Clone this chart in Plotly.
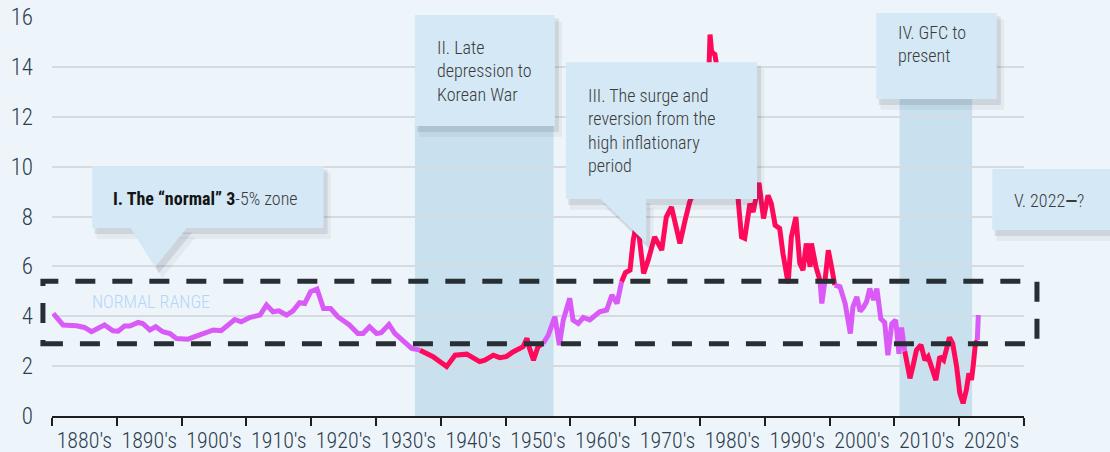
import plotly.graph_objects as go

# ---------------- data ----------------
years = [
    1880.2, 1881.0, 1881.7, 1883.8, 1885.0, 1886.1, 1888.1, 1889.4, 1890.2, 1891.2,
    1892.0, 1893.3, 1894.0, 1895.1, 1896.0, 1897.1, 1898.2, 1899.2, 1901.0, 1902.8,
    1904.9, 1906.1, 1908.2, 1909.2, 1910.5, 1912.1, 1913.1, 1914.1, 1915.0, 1916.2,
    1917.2, 1918.2, 1919.0, 1919.9, 1920.9, 1921.9, 1923.0, 1924.1, 1925.9, 1927.2,
    1928.0, 1929.0, 1930.1, 1930.8, 1932.0, 1932.9, 1934.2, 1935.5, 1936.8, 1938.8,
    1940.9, 1942.2, 1944.0, 1946.0, 1946.8, 1948.1, 1949.1, 1950.1, 1951.2, 1952.7,
    1953.3, 1953.6, 1954.3, 1955.0, 1955.8, 1956.6, 1957.6, 1958.3, 1958.9, 1959.9,
    1960.4, 1961.2, 1962.0, 1963.0, 1964.5, 1965.6, 1966.4, 1967.2, 1967.9, 1968.5,
    1969.2, 1969.7, 1970.3, 1971.0, 1971.3, 1972.0, 1973.0, 1974.1, 1974.8, 1975.6,
    1976.1, 1976.9, 1977.7, 1978.4, 1979.2, 1979.8, 1980.2, 1980.5, 1980.9, 1981.3,
    1981.55, 1981.8, 1982.3, 1982.6, 1982.9, 1983.4, 1983.8, 1984.5, 1985.0, 1985.5,
    1985.9, 1986.4, 1986.9, 1987.7, 1988.2, 1989.1, 1989.8, 1990.5, 1991.0, 1991.6,
    1992.3, 1992.8, 1993.6, 1994.1, 1994.8, 1995.4, 1995.9, 1996.4, 1997.0, 1997.2,
    1997.9, 1998.5, 1998.8, 1999.3, 1999.8, 2000.3, 2000.8, 2001.6, 2002.4, 2003.2,
    2003.6, 2004.2, 2004.7, 2005.2, 2005.7, 2006.2, 2006.8, 2007.3, 2007.9, 2008.5,
    2009.0, 2009.6, 2010.2, 2010.7, 2011.1, 2011.6, 2011.9, 2012.4, 2012.9, 2013.4,
    2014.1, 2014.7, 2015.2, 2015.7, 2016.4, 2017.0, 2017.6, 2018.5, 2019.0, 2019.6,
    2020.1, 2020.6, 2021.1, 2021.5, 2021.9, 2022.2, 2022.5, 2022.8, 2022.95,
]
yields = [
    4.11, 3.85, 3.65, 3.62, 3.55, 3.38, 3.65, 3.42, 3.40, 3.61,
    3.61, 3.75, 3.71, 3.45, 3.58, 3.38, 3.31, 3.11, 3.08, 3.25,
    3.45, 3.42, 3.87, 3.78, 3.95, 4.05, 4.45, 4.18, 4.22, 4.05,
    4.22, 4.54, 4.51, 4.98, 5.09, 4.31, 4.31, 3.98, 3.65, 3.31,
    3.31, 3.58, 3.31, 3.34, 3.67, 3.31, 3.04, 2.71, 2.64, 2.38,
    1.98, 2.44, 2.48, 2.18, 2.24, 2.44, 2.34, 2.38, 2.58, 2.78,
    3.11, 2.78, 2.24, 2.78, 2.91, 3.25, 3.98, 2.84, 3.85, 4.72,
    3.85, 3.71, 3.95, 3.85, 4.18, 4.25, 4.85, 4.51, 5.38, 5.75,
    5.85, 7.05, 7.85, 6.52, 5.72, 6.25, 7.18, 6.65, 7.98, 8.38,
    7.85, 6.92, 7.85, 8.58, 9.10, 10.40, 12.60, 9.80, 12.40, 13.20,
    15.30, 14.60, 14.50, 14.00, 10.50, 10.40, 11.80, 13.50, 11.50, 10.30,
    8.65, 7.18, 7.12, 8.52, 8.18, 9.35, 7.92, 8.85, 8.52, 7.65,
    7.52, 6.52, 5.32, 7.18, 7.98, 6.12, 5.85, 6.92, 5.98, 6.92,
    5.98, 5.45, 4.51, 5.45, 6.65, 5.98, 5.25, 5.18, 4.51, 3.31,
    4.38, 4.78, 4.20, 4.35, 4.58, 5.11, 4.65, 5.11, 3.90, 3.75,
    2.44, 3.70, 3.85, 2.50, 3.55, 2.60, 2.10, 1.51, 2.04, 2.64,
    2.85, 2.24, 2.38, 1.98, 1.44, 2.38, 2.24, 3.15, 2.90, 1.98,
    0.90, 0.51, 1.04, 1.71, 1.45, 2.11, 2.91, 3.04, 4.05,
]

# colour regimes (violet = within normal zone, red = outside)
regime_breaks = [1880.2, 1936.8, 1955.8, 1967.9, 1998.5, 1999.3, 2000.8, 2011.6, 2022.8, 2022.95]
regime_kinds = ["normal", "out", "normal", "out", "normal", "out", "normal", "out", "normal"]

decade_ticks = list(range(1880, 2031, 10))
decade_labels = [f"{d}'s" for d in range(1880, 2021, 10)]
decade_mids = [d + 5 for d in range(1880, 2021, 10)]
y_ticks = list(range(0, 17, 2))

normal_low, normal_high = 2.9, 5.4
shade_periods = [(1936.0, 1957.4), (2010.8, 2022.0)]

# ---------------- styling ----------------
FONT = "Liberation Sans Narrow, Roboto Condensed, Roboto, sans-serif"
BG = "#EEF5FA"
SHADE = "#C9E1EE"
BOX = "#D5E8F6"
VIOLET = "#DA5AF7"
RED = "#FF0A5A"
DASH = "#272E34"
TXT = "#3B3B3B"
AXTXT = "#2D3D50"
XMIN, XMAX = 1880, 2030
YMIN, YMAX = 0, 16
PLOT_W, PLOT_H = 972, 399


def xp(year):
    return (year - XMIN) / (XMAX - XMIN)


def yp(val):
    return (val - YMIN) / (YMAX - YMIN)


fig = go.Figure()

colors = {"normal": VIOLET, "out": RED}
for k, kind in enumerate(regime_kinds):
    a, b = regime_breaks[k], regime_breaks[k + 1]
    xs = [x for x in years if a - 1e-9 <= x <= b + 1e-9]
    ys = [y for x, y in zip(years, yields) if a - 1e-9 <= x <= b + 1e-9]
    fig.add_trace(go.Scatter(
        x=xs, y=ys, mode="lines",
        line=dict(color=colors[kind], width=5),
        hoverinfo="skip", showlegend=False,
    ))

shapes = []
# shaded periods
for a, b in shade_periods:
    shapes.append(dict(type="rect", xref="x", yref="paper", x0=a, x1=b, y0=0, y1=1,
                       fillcolor=SHADE, line=dict(width=0), layer="between"))

# dashed normal-range rectangle
shapes.append(dict(type="rect", xref="paper", yref="paper",
                   x0=xp(1878.6), x1=xp(2032.0), y0=yp(normal_low), y1=yp(normal_high),
                   line=dict(color=DASH, width=5, dash="20px,17px"),
                   fillcolor="rgba(0,0,0,0)", layer="above"))

# callout boxes: (x0, x1, y0, y1) in years / values
boxes = [
    (1886.2, 1921.9, 7.54, 10.02),
    (1936.0, 1957.6, 11.63, 16.08),
    (1959.3, 1988.8, 8.70, 14.19),
    (2007.2, 2025.8, 12.71, 16.16),
    (2025.1, 2045.0, 7.46, 9.90),
]
pointers = [
    [(1892.0, 7.60), (1901.0, 7.60), (1895.9, 5.97)],
    [(1964.4, 8.76), (1971.7, 8.76), (1971.7, 6.94)],
]
sdx, sdy = 4 / PLOT_W, 6 / PLOT_H


def tri_path(pts, dx=0.0, dy=0.0):
    return "M " + " L ".join(f"{xp(x) + dx},{yp(y) - dy}" for x, y in pts) + " Z"


for (alpha, mult) in [(0.06, 1.8), (0.11, 1.0)]:
    for (x0, x1, y0, y1) in boxes:
        shapes.append(dict(type="rect", xref="paper", yref="paper",
                           x0=xp(x0) + sdx * mult * 0.6, x1=xp(x1) + sdx * mult,
                           y0=yp(y0) - sdy * mult, y1=yp(y1) - sdy * mult * 0.6,
                           fillcolor=f"rgba(40,50,60,{alpha})", line=dict(width=0), layer="above"))
    for pts in pointers:
        shapes.append(dict(type="path", xref="paper", yref="paper",
                           path=tri_path(pts, sdx * mult, sdy * mult),
                           fillcolor=f"rgba(40,50,60,{alpha})", line=dict(width=0), layer="above"))

for (x0, x1, y0, y1) in boxes:
    shapes.append(dict(type="rect", xref="paper", yref="paper",
                       x0=xp(x0), x1=xp(x1), y0=yp(y0), y1=yp(y1),
                       fillcolor=BOX, line=dict(width=0), layer="above"))
for pts in pointers:
    shapes.append(dict(type="path", xref="paper", yref="paper", path=tri_path(pts),
                       fillcolor=BOX, line=dict(width=0), layer="above"))

annotations = [
    dict(text='<span style="color:#141414;font-weight:bold">I. The “normal” 3</span>-5% zone',
         x=xp(1889.1), y=yp(8.74)),
    dict(text="II. Late<br>depression to<br>Korean War", x=xp(1939.1), y=yp(13.83)),
    dict(text="III. The surge and<br>reversion from the<br>high inflationary<br>period",
         x=xp(1962.4), y=yp(11.45)),
    dict(text="IV. GFC to<br>present", x=xp(2010.3), y=yp(14.91)),
    dict(text="V. 2022<b>—</b>?", x=xp(2028.1), y=yp(8.66)),
]
for a in annotations:
    a.update(xref="paper", yref="paper", xanchor="left", yanchor="middle", align="left",
             showarrow=False, font=dict(family=FONT, size=18, color=TXT, weight=300))
annotations.append(dict(text="NORMAL RANGE", xref="paper", yref="paper",
                        x=xp(1885.9), y=yp(4.61), xanchor="left", yanchor="middle",
                        showarrow=False,
                        font=dict(family=FONT, size=18, color="#B5D5F8", weight=300)))

fig.update_layout(
    width=1110, height=452,
    margin=dict(l=52, r=86, t=17, b=36),
    paper_bgcolor=BG, plot_bgcolor=BG,
    shapes=shapes, annotations=annotations,
    showlegend=False,
    font=dict(family=FONT, color=AXTXT),
    xaxis=dict(
        range=[XMIN, XMAX], tickmode="array", tickvals=decade_mids, ticktext=decade_labels,
        ticks="", showgrid=False, zeroline=False, automargin=False,
        showline=True, linecolor="#1E1E1E", linewidth=2,
        tickfont=dict(family=FONT, size=22, color=AXTXT, weight=300),
        ticklabelstandoff=4,
        minor=dict(tickmode="array", tickvals=decade_ticks, ticks="outside", ticklen=8,
                   tickwidth=1.5, tickcolor="#1E1E1E", showgrid=False),
        fixedrange=True,
    ),
    yaxis=dict(
        range=[YMIN, YMAX], tickmode="array", tickvals=y_ticks, automargin=False,
        showgrid=True, gridcolor="#D5DCE1", gridwidth=1.5, zeroline=False,
        ticks="", showline=False,
        tickfont=dict(family=FONT, size=23, color=AXTXT, weight=300),
        ticklabelstandoff=18, fixedrange=True,
    ),
)

fig.write_html("out.html", config={"displayModeBar": False},
               post_script="document.body.style.margin='0';")
